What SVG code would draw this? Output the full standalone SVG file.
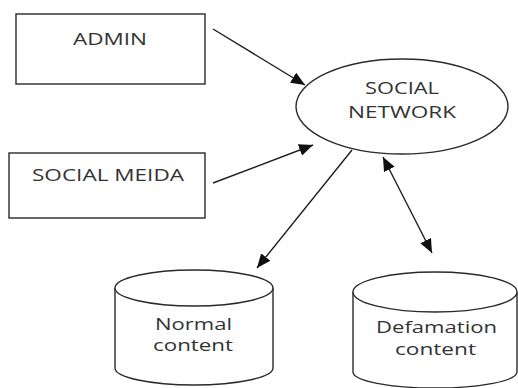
<svg xmlns="http://www.w3.org/2000/svg" width="518" height="388" viewBox="0 0 518 388">
  <style>
    .shape { fill: #ffffff; stroke: #2a2a2a; stroke-width: 1.4; }
    .conn { stroke: #1e1e1e; stroke-width: 1.4; fill: none; }
    .lbl { font-family: "Open Sans", "Liberation Sans", sans-serif; font-size: 16px; fill: #333333; text-anchor: middle; }
  </style>
  <defs>
    <marker id="arrow" viewBox="0 0 14 12" refX="14" refY="6" markerWidth="14" markerHeight="12" markerUnits="userSpaceOnUse" orient="auto-start-reverse">
      <path d="M0,0 L14,6 L0,12 z" fill="#111111"/>
    </marker>
  </defs>
  <rect x="0" y="0" width="518" height="388" fill="#ffffff"/>

  <g id="admin">
    <rect class="shape" x="16" y="14" width="189" height="70"/>
    <text class="lbl" x="110" y="45" textLength="74" lengthAdjust="spacingAndGlyphs">ADMIN</text>
  </g>

  <g id="social-meida">
    <rect class="shape" x="9" y="153" width="196" height="65"/>
    <text class="lbl" x="108" y="181" textLength="152" lengthAdjust="spacingAndGlyphs">SOCIAL MEIDA</text>
  </g>

  <g id="social-network">
    <ellipse class="shape" cx="402" cy="106.5" rx="106" ry="47.5"/>
    <text class="lbl" x="402" y="94" textLength="74" lengthAdjust="spacingAndGlyphs">SOCIAL</text>
    <text class="lbl" x="402" y="118" textLength="108" lengthAdjust="spacingAndGlyphs">NETWORK</text>
  </g>

  <g id="normal-content">
    <path class="shape" d="M115,288 L115,368 A79,17 0 0 0 273,368 L273,288"/>
    <ellipse class="shape" cx="194" cy="288" rx="79" ry="18"/>
    <text class="lbl" x="193.5" y="330" textLength="77" lengthAdjust="spacingAndGlyphs">Normal</text>
    <text class="lbl" x="193" y="351" textLength="80" lengthAdjust="spacingAndGlyphs">content</text>
  </g>

  <g id="defamation-content">
    <path class="shape" d="M353,292 L353,372 A82,16 0 0 0 517,372 L517,292"/>
    <ellipse class="shape" cx="435" cy="292" rx="82" ry="20"/>
    <text class="lbl" x="436.5" y="333" textLength="121" lengthAdjust="spacingAndGlyphs">Defamation</text>
    <text class="lbl" x="435.5" y="355" textLength="81" lengthAdjust="spacingAndGlyphs">content</text>
  </g>

  <g id="connectors">
    <line class="conn" x1="213" y1="29" x2="305" y2="85" marker-end="url(#arrow)"/>
    <line class="conn" x1="213" y1="183" x2="313" y2="145" marker-end="url(#arrow)"/>
    <line class="conn" x1="352" y1="150" x2="257" y2="268" marker-end="url(#arrow)"/>
    <line class="conn" x1="383" y1="157" x2="432" y2="253" marker-start="url(#arrow)" marker-end="url(#arrow)"/>
  </g>
</svg>
